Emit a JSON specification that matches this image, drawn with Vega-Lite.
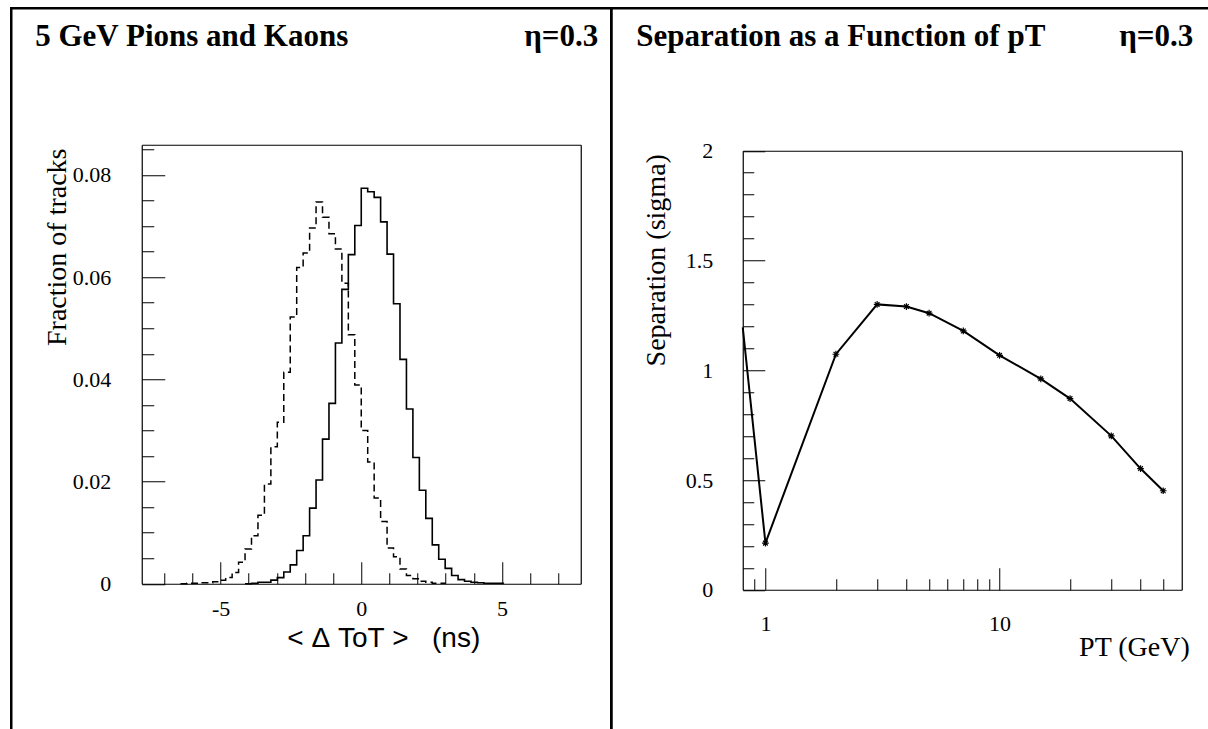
{
  "$schema": "https://vega.github.io/schema/vega-lite/v6.json",
  "background": "white",
  "padding": {"left": 9.25, "top": 6.25, "right": 0, "bottom": 0},
  "spacing": 0,
  "bounds": "flush",
  "datasets": {
    "hist": [
      {"series": "pions", "x": -4.1294, "frac": 0},
      {"series": "pions", "x": -3.9000, "frac": 0.0001},
      {"series": "pions", "x": -3.6706, "frac": 0.0003},
      {"series": "pions", "x": -3.4412, "frac": 0.0003},
      {"series": "pions", "x": -3.2118, "frac": 0.0007},
      {"series": "pions", "x": -2.9824, "frac": 0.0012},
      {"series": "pions", "x": -2.7529, "frac": 0.0023},
      {"series": "pions", "x": -2.5235, "frac": 0.0037},
      {"series": "pions", "x": -2.2941, "frac": 0.0065},
      {"series": "pions", "x": -2.0647, "frac": 0.0094},
      {"series": "pions", "x": -1.8353, "frac": 0.0148},
      {"series": "pions", "x": -1.6059, "frac": 0.0203},
      {"series": "pions", "x": -1.3765, "frac": 0.0283},
      {"series": "pions", "x": -1.1471, "frac": 0.0353},
      {"series": "pions", "x": -0.9176, "frac": 0.0471},
      {"series": "pions", "x": -0.6882, "frac": 0.0576},
      {"series": "pions", "x": -0.4588, "frac": 0.0644},
      {"series": "pions", "x": -0.2294, "frac": 0.0701},
      {"series": "pions", "x": 0, "frac": 0.0774},
      {"series": "pions", "x": 0.2294, "frac": 0.0767},
      {"series": "pions", "x": 0.4588, "frac": 0.0756},
      {"series": "pions", "x": 0.6882, "frac": 0.0708},
      {"series": "pions", "x": 0.9176, "frac": 0.0645},
      {"series": "pions", "x": 1.1471, "frac": 0.0548},
      {"series": "pions", "x": 1.3765, "frac": 0.0439},
      {"series": "pions", "x": 1.6059, "frac": 0.0342},
      {"series": "pions", "x": 1.8353, "frac": 0.0247},
      {"series": "pions", "x": 2.0647, "frac": 0.0183},
      {"series": "pions", "x": 2.2941, "frac": 0.0128},
      {"series": "pions", "x": 2.5235, "frac": 0.0076},
      {"series": "pions", "x": 2.7529, "frac": 0.0048},
      {"series": "pions", "x": 2.9824, "frac": 0.0030},
      {"series": "pions", "x": 3.2118, "frac": 0.0016},
      {"series": "pions", "x": 3.4412, "frac": 0.0008},
      {"series": "pions", "x": 3.6706, "frac": 0.0005},
      {"series": "pions", "x": 3.9000, "frac": 0.0003},
      {"series": "pions", "x": 4.1294, "frac": 0.0002},
      {"series": "pions", "x": 4.3588, "frac": 0.0001},
      {"series": "pions", "x": 4.5882, "frac": 0.0001},
      {"series": "pions", "x": 4.8176, "frac": 0.0001},
      {"series": "pions", "x": 5.0471, "frac": 0},
      {"series": "kaons", "x": -6.4235, "frac": 0},
      {"series": "kaons", "x": -6.1941, "frac": 0.0001},
      {"series": "kaons", "x": -5.9647, "frac": 0.0001},
      {"series": "kaons", "x": -5.7353, "frac": 0.0002},
      {"series": "kaons", "x": -5.5059, "frac": 0.0002},
      {"series": "kaons", "x": -5.2765, "frac": 0.0004},
      {"series": "kaons", "x": -5.0471, "frac": 0.0007},
      {"series": "kaons", "x": -4.8176, "frac": 0.0012},
      {"series": "kaons", "x": -4.5882, "frac": 0.0022},
      {"series": "kaons", "x": -4.3588, "frac": 0.0042},
      {"series": "kaons", "x": -4.1294, "frac": 0.0068},
      {"series": "kaons", "x": -3.9000, "frac": 0.0094},
      {"series": "kaons", "x": -3.6706, "frac": 0.0134},
      {"series": "kaons", "x": -3.4412, "frac": 0.0195},
      {"series": "kaons", "x": -3.2118, "frac": 0.0268},
      {"series": "kaons", "x": -2.9824, "frac": 0.0316},
      {"series": "kaons", "x": -2.7529, "frac": 0.0414},
      {"series": "kaons", "x": -2.5235, "frac": 0.0522},
      {"series": "kaons", "x": -2.2941, "frac": 0.0619},
      {"series": "kaons", "x": -2.0647, "frac": 0.0647},
      {"series": "kaons", "x": -1.8353, "frac": 0.0696},
      {"series": "kaons", "x": -1.6059, "frac": 0.0747},
      {"series": "kaons", "x": -1.3765, "frac": 0.0717},
      {"series": "kaons", "x": -1.1471, "frac": 0.0685},
      {"series": "kaons", "x": -0.9176, "frac": 0.0655},
      {"series": "kaons", "x": -0.6882, "frac": 0.0588},
      {"series": "kaons", "x": -0.4588, "frac": 0.0487},
      {"series": "kaons", "x": -0.2294, "frac": 0.0389},
      {"series": "kaons", "x": 0, "frac": 0.0300},
      {"series": "kaons", "x": 0.2294, "frac": 0.0238},
      {"series": "kaons", "x": 0.4588, "frac": 0.0168},
      {"series": "kaons", "x": 0.6882, "frac": 0.0122},
      {"series": "kaons", "x": 0.9176, "frac": 0.0070},
      {"series": "kaons", "x": 1.1471, "frac": 0.0053},
      {"series": "kaons", "x": 1.3765, "frac": 0.0029},
      {"series": "kaons", "x": 1.6059, "frac": 0.0016},
      {"series": "kaons", "x": 1.8353, "frac": 0.0010},
      {"series": "kaons", "x": 2.0647, "frac": 0.0005},
      {"series": "kaons", "x": 2.2941, "frac": 0.0003},
      {"series": "kaons", "x": 2.5235, "frac": 0.0001},
      {"series": "kaons", "x": 2.7529, "frac": 0.0001},
      {"series": "kaons", "x": 2.9824, "frac": 0}
    ],
    "sep": [
      {"pt": 0.8, "sep": 1.195},
      {"pt": 1, "sep": 0.2125},
      {"pt": 2, "sep": 1.073},
      {"pt": 3, "sep": 1.300},
      {"pt": 4, "sep": 1.290},
      {"pt": 5, "sep": 1.260},
      {"pt": 7, "sep": 1.179},
      {"pt": 10, "sep": 1.068},
      {"pt": 15, "sep": 0.961},
      {"pt": 20, "sep": 0.871},
      {"pt": 30, "sep": 0.701},
      {"pt": 40, "sep": 0.552},
      {"pt": 50, "sep": 0.451}
    ]
  },
  "hconcat": [
    {
      "width": 600,
      "height": 724,
      "data": {"name": "hist"},
      "resolve": {"axis": {"x": "independent", "y": "independent"}},
      "layer": [
        {
          "transform": [{"filter": "datum.series === 'pions'"}],
          "mark": {"type": "line", "interpolate": "step-after", "color": "black", "strokeWidth": 1.6},
          "encoding": {
            "x": {
              "field": "x", "type": "quantitative",
              "scale": {"domain": [-7.8, 7.8], "range": [130.5, 569.5], "nice": false, "zero": false},
              "axis": {
                "orient": "bottom", "offset": -148.5,
                "values": [-7, -6, -5, -4, -3, -2, -1, 0, 1, 2, 3, 4, 5, 6, 7],
                "tickSize": {"condition": {"test": "datum.value % 5 === 0", "value": -22}, "value": -11},
                "labelExpr": "datum.value % 5 === 0 ? toString(datum.value) : ''",
                "labelBaseline": "middle",
                "labelPadding": 47,
                "title": "<\u00a0Δ\u00a0ToT\u00a0>\u00a0\u00a0\u00a0(ns)",
                "titleFont": "Liberation Sans",
                "titleFontSize": 28,
                "titleX": 372, "titleY": 55,
                "titleAlign": "center", "titleBaseline": "middle"
              }
            },
            "y": {
              "field": "frac", "type": "quantitative",
              "scale": {"domain": [0, 0.0859], "range": [575.5, 136.5], "nice": false, "zero": false},
              "axis": {
                "orient": "left", "offset": -130.5,
                "values": [0, 0.005, 0.01, 0.015, 0.02, 0.025, 0.03, 0.035, 0.04, 0.045, 0.05, 0.055, 0.06, 0.065, 0.07, 0.075, 0.08, 0.085],
                "tickSize": {"condition": {"test": "abs(datum.value * 50 - round(datum.value * 50)) < 0.001", "value": -23}, "value": -12},
                "labelExpr": "abs(datum.value * 50 - round(datum.value * 50)) < 0.001 ? (datum.value === 0 ? '0' : format(datum.value, '.2f')) : ''",
                "labelPadding": 54,
                "title": "Fraction of tracks",
                "titleFontSize": 28,
                "titleX": -84, "titleY": 238.5,
                "titleAngle": 270, "titleAlign": "center", "titleBaseline": "middle"
              }
            }
          }
        },
        {
          "transform": [{"filter": "datum.series === 'kaons'"}],
          "mark": {"type": "line", "interpolate": "step-after", "color": "black", "strokeWidth": 1.5, "strokeDash": [7, 4]},
          "encoding": {
            "x": {
              "field": "x", "type": "quantitative",
              "axis": {
                "orient": "top", "offset": -136.5,
                "ticks": false, "labels": false,
                "title": "5 GeV Pions and Kaons",
                "titleFontSize": 31, "titleFontWeight": "bold",
                "titleX": 23.5, "titleY": -99,
                "titleAngle": 0, "titleAlign": "left", "titleBaseline": "alphabetic"
              }
            },
            "y": {
              "field": "frac", "type": "quantitative",
              "axis": {
                "orient": "right", "offset": -30.5,
                "ticks": false, "labels": false,
                "title": "η=0.3",
                "titleFontSize": 31, "titleFontWeight": "bold",
                "titleX": 17, "titleY": 37.5,
                "titleAngle": 0, "titleAlign": "right", "titleBaseline": "alphabetic"
              }
            }
          }
        }
      ]
    },
    {
      "width": 600,
      "height": 724,
      "data": {"name": "sep"},
      "resolve": {"axis": {"x": "independent", "y": "independent"}},
      "layer": [
        {
          "mark": {"type": "line", "color": "black", "strokeWidth": 2, "clip": true},
          "encoding": {
            "x": {
              "field": "pt", "type": "quantitative",
              "scale": {"type": "log", "domain": [0.8, 60], "range": [131.5, 570.5], "nice": false},
              "axis": {
                "orient": "bottom", "offset": -142.5,
                "values": [0.9, 1, 2, 3, 4, 5, 6, 7, 8, 9, 10, 20, 30, 40, 50],
                "tickSize": {"condition": {"test": "datum.value === 1 || datum.value === 10", "value": -22}, "value": -11},
                "labelExpr": "datum.value === 1 || datum.value === 10 ? toString(datum.value) : ''",
                "labelBaseline": "middle",
                "labelPadding": 56,
                "title": "PT (GeV)",
                "titleFontSize": 28,
                "titleX": 578, "titleY": 58,
                "titleAlign": "right", "titleBaseline": "middle"
              }
            },
            "y": {
              "field": "sep", "type": "quantitative",
              "scale": {"domain": [0, 2], "range": [581.5, 142.5], "nice": false, "zero": false},
              "axis": {
                "orient": "left", "offset": -131.5,
                "values": [0, 0.1, 0.2, 0.3, 0.4, 0.5, 0.6, 0.7, 0.8, 0.9, 1, 1.1, 1.2, 1.3, 1.4, 1.5, 1.6, 1.7, 1.8, 1.9, 2],
                "tickSize": {"condition": {"test": "abs(datum.value * 2 - round(datum.value * 2)) < 0.001", "value": -22}, "value": -11},
                "labelExpr": "abs(datum.value * 2 - round(datum.value * 2)) < 0.001 ? toString(datum.value) : ''",
                "labelPadding": 52,
                "title": "Separation (sigma)",
                "titleFontSize": 28,
                "titleX": -86, "titleY": 251.5,
                "titleAngle": 270, "titleAlign": "center", "titleBaseline": "middle"
              }
            }
          }
        },
        {
          "transform": [{"filter": "datum.pt >= 1"}],
          "mark": {"type": "point", "shape": "M-1,0L1,0M0,-1L0,1M-0.7,-0.7L0.7,0.7M-0.7,0.7L0.7,-0.7", "filled": false, "color": "black", "strokeWidth": 1.2, "size": 45, "opacity": 1},
          "encoding": {
            "x": {
              "field": "pt", "type": "quantitative",
              "axis": {
                "orient": "top", "offset": -142.5,
                "ticks": false, "labels": false,
                "title": "Separation as a Function of pT",
                "titleFontSize": 31, "titleFontWeight": "bold",
                "titleX": 24.5, "titleY": -105,
                "titleAngle": 0, "titleAlign": "left", "titleBaseline": "alphabetic"
              }
            },
            "y": {
              "field": "sep", "type": "quantitative",
              "axis": {
                "orient": "right", "offset": -29.5,
                "ticks": false, "labels": false,
                "title": "η=0.3",
                "titleFontSize": 31, "titleFontWeight": "bold",
                "titleX": 11, "titleY": 37.5,
                "titleAngle": 0, "titleAlign": "right", "titleBaseline": "alphabetic"
              }
            }
          }
        }
      ]
    }
  ],
  "config": {
    "view": {"stroke": "black", "strokeWidth": 2.5},
    "axis": {
      "labelFont": "Liberation Serif", "labelFontSize": 22, "labelColor": "black",
      "titleFont": "Liberation Serif", "titleColor": "black", "titleFontWeight": "normal",
      "domainColor": "black", "domainWidth": 1.2,
      "tickColor": "black", "tickWidth": 1,
      "grid": false, "labelOverlap": false, "labelFlush": false, "labelBound": false
    }
  }
}
